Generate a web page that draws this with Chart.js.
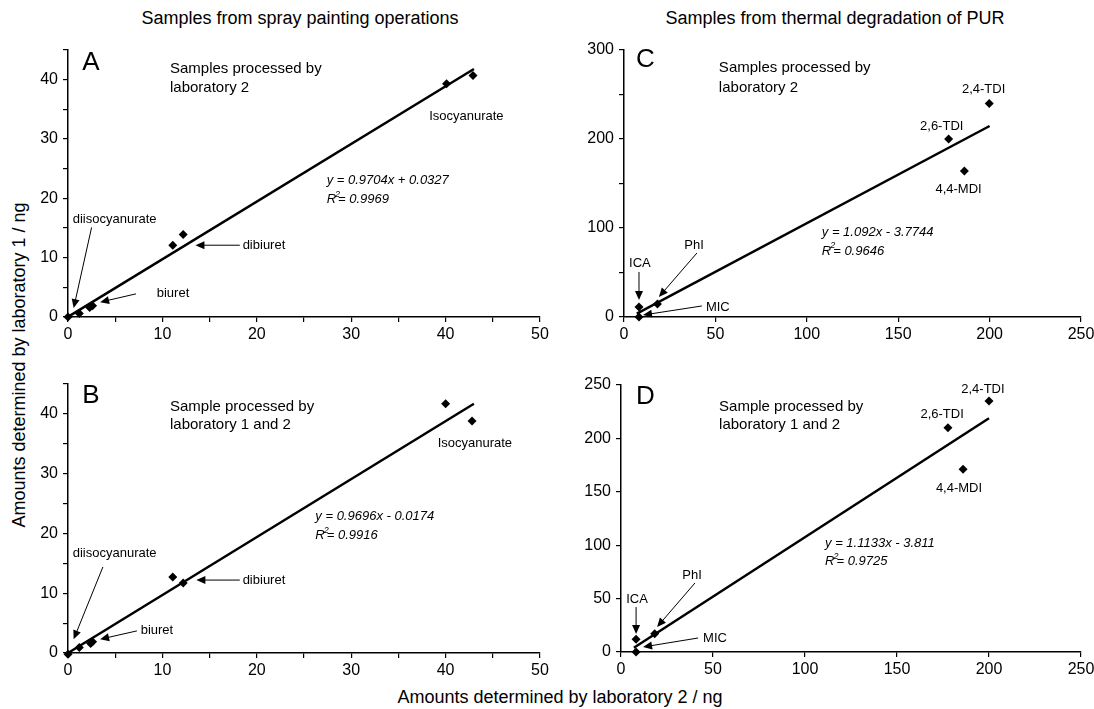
<!DOCTYPE html>
<html>
<head>
<meta charset="utf-8">
<script src="https://cdn.jsdelivr.net/npm/chart.js@4.4.0/dist/chart.umd.min.js"></script>
<style>
  body { margin: 0; background: #fff; width: 1094px; height: 709px; position: relative; overflow: hidden;
         font-family: Arial, "Liberation Sans", sans-serif; }
  canvas { position: absolute; }
  .lbl { position: absolute; font-size: 18px; color: #000; white-space: nowrap; transform: translate(-50%, -50%); }
</style>
</head>
<body>
<div class="lbl" style="left:300px;top:18px">Samples from spray painting operations</div>
<div class="lbl" style="left:835px;top:18px">Samples from thermal degradation of PUR</div>
<div class="lbl" style="left:19px;top:365px;transform:translate(-50%,-50%) rotate(-90deg)">Amounts determined by laboratory 1 / ng</div>
<div class="lbl" style="left:560px;top:697px">Amounts determined by laboratory 2 / ng</div>

<script>
// values
// A: spray painting, laboratory 2
const aX = [0, 1.2, 2.3, 2.6, 11.1, 12.2, 40.1, 42.9];
const aY = [0, 0.6, 1.6, 1.9, 12.1, 13.9, 39.3, 40.7];
const aTrendX = [0, 43];
const aTrendY = [0.03, 41.8];

// B: spray painting, laboratory 1 and 2
const bX = [0, 1.2, 2.4, 2.6, 11.1, 12.2, 40.0, 42.8];
const bY = [-0.2, 0.9, 1.6, 1.9, 12.7, 11.7, 41.7, 38.8];
const bTrendX = [0, 43];
const bTrendY = [0, 41.7];

// C: thermal degradation, laboratory 2  (ICA, MIC, PhI, 2,6-TDI, 4,4-MDI, 2,4-TDI)
const cX = [8.2, 8.2, 18.3, 177.6, 186.2, 199.8];
const cY = [11.2, 0, 14.6, 200, 164, 240];
const cTrendX = [7, 200];
const cTrendY = [3.9, 214.6];

// D: thermal degradation, laboratory 1 and 2
const dX = [8.2, 8.2, 18.3, 177.7, 185.9, 200];
const dY = [12, 0, 17, 210, 171, 235];
const dTrendX = [7, 200];
const dTrendY = [4.0, 218.8];

// tick labels
const sprayXTicks = [0, 10, 20, 30, 40, 50];
const sprayYTicks = [0, 10, 20, 30, 40];
const thermalXTicks = [0, 50, 100, 150, 200, 250];
const cYTicks = [0, 100, 200, 300];
const dYTicks = [0, 50, 100, 150, 200, 250];

const FONT = 'Arial, "Liberation Sans", sans-serif';

function toPts(xs, ys) {
  return xs.map((x, i) => ({ x: x, y: ys[i] }));
}

function arrow(ctx, x1, y1, x2, y2) {
  const a = Math.atan2(y2 - y1, x2 - x1), L = 9, W = 4;
  const c = Math.cos(a), s = Math.sin(a);
  ctx.beginPath();
  ctx.moveTo(x1, y1);
  ctx.lineTo(x2 - L * c * 0.8, y2 - L * s * 0.8);
  ctx.stroke();
  ctx.beginPath();
  ctx.moveTo(x2, y2);
  ctx.lineTo(x2 - L * c + W * s, y2 - L * s - W * c);
  ctx.lineTo(x2 - L * c - W * s, y2 - L * s + W * c);
  ctx.closePath();
  ctx.fill();
}

function drawNotes(chart, notes) {
  const ctx = chart.ctx, xs = chart.scales.x, ys = chart.scales.y;
  ctx.save();
  ctx.fillStyle = '#000';
  ctx.strokeStyle = '#000';
  ctx.lineWidth = 1;
  ctx.textBaseline = 'middle';
  notes.forEach(n => {
    if (n.arrow) {
      const [x1, y1, x2, y2] = n.arrow;
      arrow(ctx, xs.getPixelForValue(x1), ys.getPixelForValue(y1), xs.getPixelForValue(x2), ys.getPixelForValue(y2));
      return;
    }
    const px = xs.getPixelForValue(n.x), py = ys.getPixelForValue(n.y);
    const size = n.size || 13;
    const style = n.italic ? 'italic ' : '';
    ctx.font = style + size + 'px ' + FONT;
    ctx.textAlign = n.align || 'left';
    if (n.r2) {
      ctx.textAlign = 'left';
      ctx.fillText('R', px, py);
      const w = ctx.measureText('R').width;
      ctx.font = style + '9px ' + FONT;
      ctx.fillText('2', px + w - 1, py - 5);
      ctx.font = style + size + 'px ' + FONT;
      ctx.fillText('= ' + n.r2, px + w + 2, py);
    } else {
      ctx.fillText(n.text, px, py);
    }
  });
  ctx.restore();
}

function makePanel(box, pts, trend, ax, notes) {
  const cv = document.createElement('canvas');
  cv.width = box.w; cv.height = box.h;
  cv.style.left = box.left + 'px'; cv.style.top = box.top + 'px';
  cv.style.width = box.w + 'px'; cv.style.height = box.h + 'px';
  document.body.appendChild(cv);

  const tickFont = { size: 16, family: FONT };
  const grid = { drawOnChartArea: false, drawTicks: true, tickLength: 5, color: '#000', lineWidth: 1.2 };
  const border = { display: true, color: '#000', width: 1.5 };

  new Chart(cv, {
    type: 'scatter',
    data: {
      datasets: [
        { data: pts, pointStyle: 'rectRot', pointRadius: 4.5, pointHoverRadius: 4.5,
          backgroundColor: '#000', borderColor: '#000', borderWidth: 0, clip: false },
        { type: 'line', data: trend, borderColor: '#000', borderWidth: 2.5, pointRadius: 0,
          fill: false, clip: false }
      ]
    },
    options: {
      responsive: false,
      animation: false,
      devicePixelRatio: 1,
      layout: { padding: { top: box.padTop, right: box.padRight, left: 0, bottom: 0 } },
      plugins: { legend: { display: false }, tooltip: { enabled: false } },
      scales: {
        x: {
          type: 'linear', min: ax.xMin, max: ax.xMax,
          afterFit: s => { s.height = box.axisH; s.paddingLeft = 0; s.paddingRight = 0; },
          ticks: { stepSize: ax.xStep, autoSkip: false, maxRotation: 0, padding: 3, color: '#000', font: tickFont,
                   callback: v => ax.xLabels.includes(v) ? String(v) : '' },
          grid: grid, border: border
        },
        y: {
          type: 'linear', min: ax.yMin, max: ax.yMax,
          afterFit: s => { s.width = box.axisW; s.paddingTop = 0; s.paddingBottom = 0; },
          ticks: { stepSize: ax.yStep, autoSkip: false, padding: 5, color: '#000', font: tickFont,
                   callback: v => ax.yLabels.includes(v) ? String(v) : '' },
          grid: grid, border: border
        }
      }
    },
    plugins: [{ id: 'notes', afterDatasetsDraw: chart => drawNotes(chart, notes) }]
  });
}

// panel A
makePanel(
  { left: 0, top: 0, w: 560, h: 350, axisW: 68, axisH: 33, padTop: 50, padRight: 20 },
  toPts(aX, aY), toPts(aTrendX, aTrendY),
  { xMin: 0, xMax: 50, xStep: 5, xLabels: sprayXTicks, yMin: 0, yMax: 45, yStep: 5, yLabels: sprayYTicks },
  [
    { text: 'A', x: 1.5, y: 42.9, size: 26 },
    { text: 'Samples processed by', x: 10.8, y: 41.8, size: 15 },
    { text: 'laboratory 2', x: 10.8, y: 38.7, size: 15 },
    { text: 'Isocyanurate', x: 42.2, y: 33.8, align: 'center' },
    { text: 'y = 0.9704x + 0.0327', x: 27.4, y: 23.0, italic: true },
    { r2: '0.9969', x: 27.4, y: 19.8, italic: true },
    { text: 'dibiuret', x: 18.5, y: 12.1 },
    { arrow: [18.2, 12.1, 13.5, 12.1] },
    { text: 'diisocyanurate', x: 0.5, y: 16.5 },
    { arrow: [2.5, 15.1, 0.6, 1.5] },
    { text: 'biuret', x: 9.4, y: 3.9 },
    { arrow: [7.2, 3.9, 3.4, 2.5] }
  ]
);

// panel B
makePanel(
  { left: 0, top: 350, w: 560, h: 345, axisW: 68, axisH: 42, padTop: 34, padRight: 20 },
  toPts(bX, bY), toPts(bTrendX, bTrendY),
  { xMin: 0, xMax: 50, xStep: 5, xLabels: sprayXTicks, yMin: 0, yMax: 45, yStep: 5, yLabels: sprayYTicks },
  [
    { text: 'B', x: 1.5, y: 43.0, size: 26 },
    { text: 'Sample processed by', x: 10.8, y: 41.2, size: 15 },
    { text: 'laboratory 1 and 2', x: 10.8, y: 38.2, size: 15 },
    { text: 'Isocyanurate', x: 43.1, y: 35.1, align: 'center' },
    { text: 'y = 0.9696x - 0.0174', x: 26.2, y: 22.8, italic: true },
    { r2: '0.9916', x: 26.2, y: 19.7, italic: true },
    { text: 'dibiuret', x: 18.5, y: 12.2 },
    { arrow: [18.2, 12.2, 13.6, 12.2] },
    { text: 'diisocyanurate', x: 0.5, y: 16.7 },
    { arrow: [3.7, 14.4, 0.6, 2.3] },
    { text: 'biuret', x: 7.7, y: 3.7 },
    { arrow: [7.3, 3.7, 3.4, 2.3] }
  ]
);

// panel C
makePanel(
  { left: 560, top: 0, w: 534, h: 350, axisW: 64, axisH: 33, padTop: 50, padRight: 13 },
  toPts(cX, cY), toPts(cTrendX, cTrendY),
  { xMin: 0, xMax: 250, xStep: 50, xLabels: thermalXTicks, yMin: 0, yMax: 300, yStep: 50, yLabels: cYTicks },
  [
    { text: 'C', x: 6.6, y: 289, size: 26 },
    { text: 'Samples processed by', x: 51.9, y: 280, size: 15 },
    { text: 'laboratory 2', x: 51.9, y: 258, size: 15 },
    { text: '2,4-TDI', x: 196.7, y: 256, align: 'center' },
    { text: '2,6-TDI', x: 173.8, y: 214.6, align: 'center' },
    { text: '4,4-MDI', x: 183, y: 143.8, align: 'center' },
    { text: 'y = 1.092x - 3.7744', x: 108.2, y: 95.5, italic: true },
    { r2: '0.9646', x: 108.2, y: 74.2, italic: true },
    { text: 'ICA', x: 8.7, y: 60.7, align: 'center' },
    { arrow: [8.2, 50.6, 8.2, 19.1] },
    { text: 'PhI', x: 38.3, y: 80.9, align: 'center' },
    { arrow: [39.9, 71.9, 19.1, 22.5] },
    { text: 'MIC', x: 44.8, y: 11.2 },
    { arrow: [42.6, 12.4, 10.4, 2.2] }
  ]
);

// panel D
makePanel(
  { left: 560, top: 350, w: 534, h: 345, axisW: 61, axisH: 43, padTop: 35, padRight: 13 },
  toPts(dX, dY), toPts(dTrendX, dTrendY),
  { xMin: 0, xMax: 250, xStep: 50, xLabels: thermalXTicks, yMin: 0, yMax: 250, yStep: 50, yLabels: dYTicks },
  [
    { text: 'D', x: 8.2, y: 238.8, size: 26 },
    { text: 'Sample processed by', x: 53.3, y: 229.4, size: 15 },
    { text: 'laboratory 1 and 2', x: 53.3, y: 212.5, size: 15 },
    { text: '2,4-TDI', x: 196.7, y: 246.3, align: 'center' },
    { text: '2,6-TDI', x: 174.5, y: 222.8, align: 'center' },
    { text: '4,4-MDI', x: 183.7, y: 153.6, align: 'center' },
    { text: 'y = 1.1133x - 3.811', x: 110.9, y: 102, italic: true },
    { r2: '0.9725', x: 110.9, y: 85.2, italic: true },
    { text: 'ICA', x: 8.7, y: 49.6, align: 'center' },
    { arrow: [8.2, 42.1, 8.2, 16.9] },
    { text: 'PhI', x: 38.6, y: 72.1, align: 'center' },
    { arrow: [40.2, 64.6, 19.6, 23.4] },
    { text: 'MIC', x: 44.6, y: 13.1 },
    { arrow: [41.9, 13.1, 12, 4.7] }
  ]
);
</script>
</body>
</html>
